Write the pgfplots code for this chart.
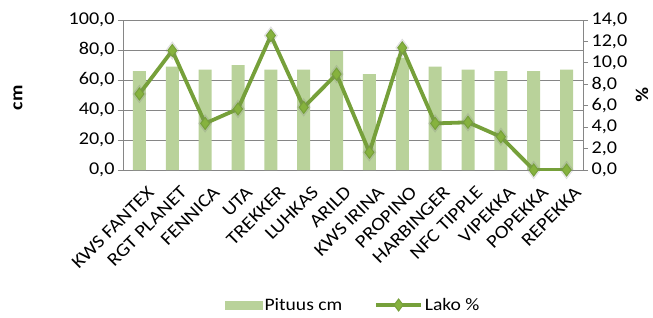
\documentclass[border=0pt]{standalone}
\usepackage{pgfplots}
\pgfplotsset{compat=1.18}
\usepackage{fontspec}
\setmainfont[FakeStretch=1.12]{Carlito}
\definecolor{barc}{HTML}{B9D29A}
\definecolor{linec}{HTML}{76A03A}
\definecolor{markc}{HTML}{86B23E}
\definecolor{axc}{HTML}{868686}
\pgfplotstableread{
x pituus lako
0 66 7.1
1 69 11.15
2 67 4.35
3 70 5.7
4 67 12.55
5 67 5.85
6 79.5 8.95
7 64 1.65
8 75 11.4
9 69 4.35
10 67 4.45
11 66 3.1
12 66 0.0
13 67 0.0
}\datatable
\begin{document}
\begin{tikzpicture}[x=1pt,y=1pt]
\path[use as bounding box] (0,0) rectangle (653,317);
\pgfplotsset{
  every axis/.append style={
    scale only axis, width=460pt, height=150pt,
    at={(123pt,147pt)}, anchor=south west,
    xmin=-0.5, xmax=13.5,
    tick align=outside,
    axis line style={axc, line width=0.8pt},
    tick style={axc, line width=0.8pt},
    major tick length=5pt,
    minor tick length=5pt,
    ticklabel style={font=\fontsize{18}{21}\selectfont, text=black},
    label style={font=\fontsize{18}{21}\selectfont\bfseries},
    /pgf/number format/.cd, fixed, fixed zerofill, precision=1, use comma, assume math mode=true,
  },
}
\begin{axis}[
  axis y line*=left,
  axis x line*=bottom,
  ymin=0, ymax=100,
  ytick={0,20,...,100},
  ymajorgrids,
  grid style={axc, line width=0.8pt},
  xtick={0,...,13},
  xticklabels={KWS FANTEX,RGT PLANET,FENNICA,UTA,TREKKER,LUHKAS,ARILD,KWS IRINA,PROPINO,HARBINGER,NFC TIPPLE,VIPEKKA,POPEKKA,REPEKKA},
  xticklabel style={rotate=45, anchor=north east, inner sep=1pt, xshift=-1pt, yshift=-11pt, font=\fontsize{18.5}{21}\selectfont},
  xtick style={draw=none},
  minor xtick={-0.5,0.5,...,13.5},
  ylabel={cm},
  ylabel style={at={(axis description cs:-0.228,0.48)}, anchor=center},
  legend columns=2,
  legend style={at={(0.5,-0.9)}, anchor=center, draw=none, fill=none,
    font=\fontsize{17.5}{20}\selectfont, column sep=0pt, inner sep=0pt,
    /tikz/every even column/.append style={column sep=30pt}},
  legend cell align=left,
]
\addplot[ybar, bar width=13pt, fill=barc, draw=none,
  legend image code/.code={\fill[barc] (0pt,-4.5pt) rectangle (38pt,4.5pt);}]
  table[x=x,y=pituus]{\datatable};
\addlegendentry{Pituus cm}
\addlegendimage{linec, line width=3.5pt,
  legend image code/.code={\draw[linec, line width=3.5pt] (0pt,0pt) -- (45pt,0pt); \draw[linec, line width=1pt, fill=markc] (22.5pt,6pt) -- (27pt,0pt) -- (22.5pt,-6pt) -- (18pt,0pt) -- cycle;}}
\addlegendentry{Lako \%}
\end{axis}
\begin{axis}[
  axis y line*=right,
  axis x line=none,
  ymin=0, ymax=14,
  ytick={0,2,...,14},
  ylabel={\%},
  ylabel style={at={(axis description cs:1.128,0.5)}, anchor=center, rotate=180},
]
\addplot[only marks, mark=diamond*, mark size=9pt, gray, opacity=0.18, draw=none, forget plot]
  table[x=x,y=lako]{\datatable};
\addplot[linec, line width=3.8pt, mark=diamond*, mark size=6pt,
  mark options={fill=markc, draw=linec, line width=1pt}]
  table[x=x,y=lako]{\datatable};
\end{axis}
\end{tikzpicture}
\end{document}
